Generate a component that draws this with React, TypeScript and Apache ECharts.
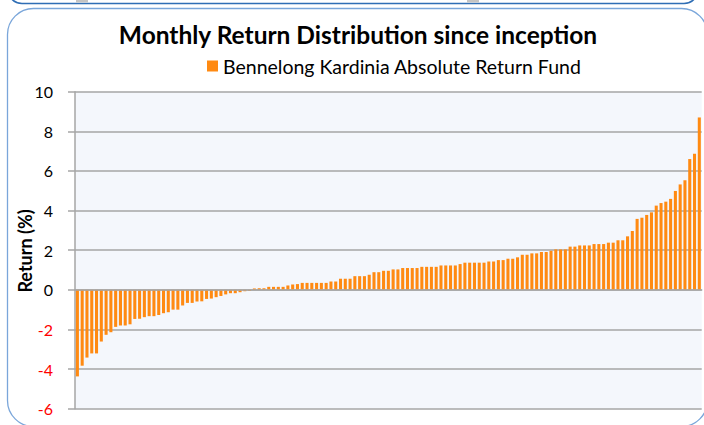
import React, { useEffect, useRef } from "react";
import * as echarts from "echarts";

const chartTitle = "Monthly Return Distribution since inception";
const seriesName = "Bennelong Kardinia Absolute Return Fund";
const yAxisName = "Return (%)";

// Monthly returns (%) sorted ascending
const returnsPct: number[] = [
  -4.37, -3.83, -3.42, -3.21, -3.21, -2.61, -2.27, -2.14, -1.87, -1.8,
  -1.8, -1.74, -1.47, -1.46, -1.38, -1.33, -1.33, -1.27, -1.18, -1.13,
  -1.0, -1.0, -0.79, -0.66, -0.66, -0.59, -0.58, -0.46, -0.44, -0.37,
  -0.31, -0.23, -0.17, -0.17, -0.12, -0.07, -0.05, 0.07, 0.08, 0.08,
  0.15, 0.15, 0.15, 0.15, 0.22, 0.27, 0.29, 0.35, 0.35, 0.35,
  0.35, 0.35, 0.35, 0.42, 0.42, 0.56, 0.56, 0.56, 0.69, 0.69,
  0.69, 0.76, 0.89, 0.89, 0.96, 0.96, 1.03, 1.03, 1.1, 1.1,
  1.1, 1.1, 1.16, 1.16, 1.16, 1.16, 1.23, 1.23, 1.23, 1.23,
  1.3, 1.37, 1.37, 1.37, 1.37, 1.37, 1.43, 1.43, 1.5, 1.5,
  1.57, 1.57, 1.64, 1.77, 1.77, 1.84, 1.84, 1.91, 1.91, 1.97,
  2.04, 2.04, 2.04, 2.18, 2.18, 2.24, 2.24, 2.24, 2.31, 2.31,
  2.31, 2.38, 2.38, 2.5, 2.5, 2.7, 2.97, 3.58, 3.64, 3.78,
  3.91, 4.25, 4.38, 4.45, 4.59, 4.99, 5.32, 5.53, 6.6, 6.87,
  8.7,
];

// Category = rank of month in the sorted distribution
const monthRanks: string[] = returnsPct.map((_, i) => String(i + 1));

const yMin = -6;
const yMax = 10;
const yInterval = 2;

export default function App() {
  const ref = useRef<HTMLDivElement>(null);

  useEffect(() => {
    document.body.style.margin = "0";
    if (!ref.current) return;
    const chart = echarts.init(ref.current, undefined, { renderer: "svg" });

    const gridColor = "#A6A6A6";
    const font = "Lato, 'Open Sans', sans-serif";

    chart.setOption({
      animation: false,
      backgroundColor: "#FFFFFF",
      textStyle: { fontFamily: font },
      grid: {
        left: 75,
        top: 91.7,
        width: 626.7,
        height: 317,
        show: true,
        backgroundColor: "#F4F7FC",
        borderWidth: 0,
      },
      legend: {
        show: true,
        left: 202,
        top: 51,
        icon: "rect",
        itemWidth: 11,
        itemHeight: 11,
        itemGap: 5,
        textStyle: { fontFamily: font, fontSize: 19.5, color: "#000" },
        data: [seriesName],
      },
      xAxis: {
        type: "category",
        data: monthRanks,
        z: 3,
        axisLine: { show: true, onZero: true, lineStyle: { color: gridColor, width: 1.5 } },
        axisTick: { show: false },
        axisLabel: { show: false },
        splitLine: { show: false },
      },
      yAxis: {
        type: "value",
        min: yMin,
        max: yMax,
        interval: yInterval,
        axisLine: { show: true, lineStyle: { color: gridColor, width: 1.5 } },
        axisTick: { show: true, inside: false, length: 7, lineStyle: { color: gridColor, width: 1.5 } },
        axisLabel: {
          margin: 22,
          fontFamily: font,
          fontSize: 16,
          color: (v: any) => (Number(v) < 0 ? "#FF0000" : "#000000"),
        },
        splitLine: { show: true, lineStyle: { color: gridColor, width: 1.5 } },
      },
      series: [
        {
          name: seriesName,
          type: "bar",
          data: returnsPct,
          barWidth: "64%",
          itemStyle: { color: "#FF8A12" },
        },
      ],
      graphic: [
        {
          type: "rect",
          silent: true,
          shape: { x: 8, y: -40, width: 690, height: 43.5, r: 14 },
          style: { fill: "none", stroke: "#2F6EB5", lineWidth: 1.6 },
        },
        {
          type: "rect",
          silent: true,
          shape: { x: 76, y: 0, width: 12, height: 2.5 },
          style: { fill: "#C4C4C4" },
        },
        {
          type: "rect",
          silent: true,
          shape: { x: 467, y: 0, width: 12, height: 2.5 },
          style: { fill: "#C4C4C4" },
        },
        {
          type: "rect",
          silent: true,
          shape: { x: 7.5, y: 8.5, width: 700, height: 418, r: 26 },
          style: { fill: "none", stroke: "#7AA6DA", lineWidth: 1.3 },
        },
        {
          type: "text",
          silent: true,
          x: 358,
          y: 34.5,
          style: {
            text: chartTitle,
            align: "center",
            verticalAlign: "middle",
            font: `bold 24.5px ${font}`,
            fill: "#000000",
          },
        },
        {
          type: "text",
          silent: true,
          x: 24.5,
          y: 251,
          rotation: Math.PI / 2,
          style: {
            text: yAxisName,
            align: "center",
            verticalAlign: "middle",
            font: `bold 18px ${font}`,
            fill: "#000000",
          },
        },
      ],
    });

    return () => chart.dispose();
  }, []);

  return <div ref={ref} style={{ width: 704, height: 425 }} />;
}
